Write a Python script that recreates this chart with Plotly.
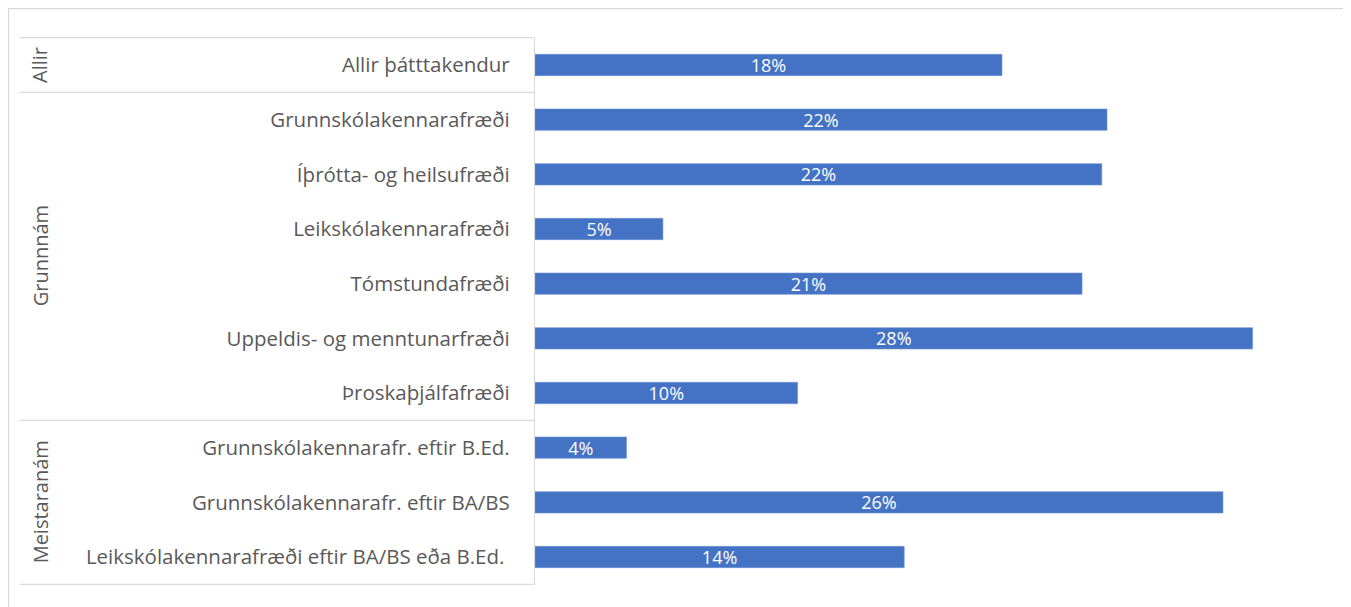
import plotly.graph_objects as go

# Gögn
categories = [
    'Allir þátttakendur',
    'Grunnskólakennarafræði',
    'Íþrótta- og heilsufræði',
    'Leikskólakennarafræði',
    'Tómstundafræði',
    'Uppeldis- og menntunarfræði',
    'Þroskaþjálfafræði',
    'Grunnskólakennarafr. eftir B.Ed.',
    'Grunnskólakennarafr. eftir BA/BS',
    'Leikskólakennarafræði eftir BA/BS eða B.Ed. ',
]
values = [17.96, 22.0, 21.8, 4.92, 21.04, 27.6, 10.1, 3.52, 26.46, 14.2]

groups = ['Allir', 'Grunnnám', 'Meistaranám']
group_centers = [0, 3.5, 8]
group_bounds = [-0.5, 0.5, 6.5, 9.5]

FONT = "Segoe UI, Open Sans, Noto Sans, sans-serif"
GREY = '#595959'
LINE = '#D9D9D9'

# síðan bætir 8px spássíu við, svo allt er fært um 8px
OFF = 8
W, H = 1351 - OFF, 607 - OFF
L, R, T, B = 535 - OFF, 1328 - OFF, 37 - OFF, 585 - OFF
pw = R - L
ph = B - T


def px_x(p):
    return (p - OFF - L) / pw


def px_y(p):
    return (B - (p - OFF)) / ph


fig = go.Figure()

fig.add_trace(go.Bar(
    x=values,
    y=categories,
    orientation='h',
    marker=dict(color='#4472C4', line=dict(color='#6F93D3', width=0.6)),
    texttemplate='%{x:.0f}%',
    textposition='inside',
    insidetextanchor='middle',
    constraintext='none',
    textfont=dict(color='white', size=18, family=FONT),
    hoverinfo='x+y',
))

shapes = []
# ramminn utan um myndina
x_l, x_r, y_t, y_b = px_x(8.5), px_x(1344), px_y(8.5), px_y(620)
for x0, y0, x1, y1 in [(x_l, y_t, x_r, y_t), (x_l, y_b, x_l, y_t), (x_r, y_b, x_r, y_t)]:
    shapes.append(dict(type='line', xref='paper', yref='paper',
                       x0=x0, x1=x1, y0=y0, y1=y1,
                       line=dict(color=LINE, width=1.3), layer='below'))
# skilalínur milli hópa
for b in group_bounds:
    shapes.append(dict(type='line', xref='paper', yref='y',
                       x0=px_x(20), x1=0, y0=b, y1=b,
                       line=dict(color=LINE, width=1.3)))

annotations = []
for g, c in zip(groups, group_centers):
    annotations.append(dict(
        text=g, xref='paper', yref='y', x=px_x(40), y=c,
        textangle=-90, showarrow=False, xanchor='center', yanchor='middle',
        font=dict(size=20, color=GREY, family=FONT),
    ))

fig.update_layout(
    width=W,
    height=H,
    margin=dict(l=L, r=W - R, t=T, b=H - B),
    plot_bgcolor='white',
    paper_bgcolor='white',
    showlegend=False,
    bargap=0.61,
    shapes=shapes,
    annotations=annotations,
    font=dict(family=FONT, color=GREY, size=20),
)

fig.update_xaxes(range=[0, pw / 26], visible=False, showgrid=False, zeroline=False)
fig.update_yaxes(
    autorange='reversed',
    showline=True, linecolor=LINE, linewidth=1.3,
    showgrid=False, ticks='', ticklabelstandoff=20,
    tickfont=dict(size=20.5, color=GREY, family=FONT),
)

fig.write_html("out.html")
